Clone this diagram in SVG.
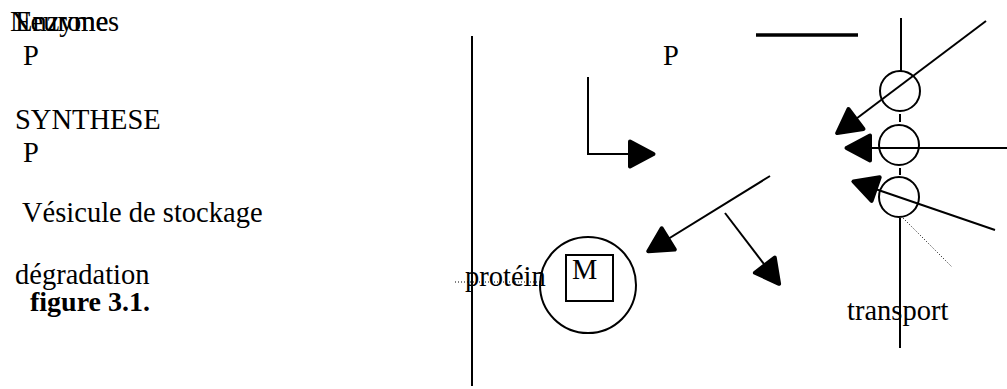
<svg xmlns="http://www.w3.org/2000/svg" width="1007" height="389" viewBox="0 0 1007 389">
<style>
text{font-family:"Liberation Serif","Times New Roman",serif;font-size:28.5px;fill:#000}
.b{font-weight:bold;font-size:28px}
.ln{stroke:#000;stroke-width:2;fill:none}
.thick{stroke:#000;stroke-width:3.5;fill:none}
.dot{stroke:#000;stroke-width:1;stroke-dasharray:1 2;fill:none}
.arr{marker-end:url(#ah)}
</style>
<defs>
<marker id="ah" markerUnits="userSpaceOnUse" viewBox="-30 -17 34 34" markerWidth="34" markerHeight="34" refX="0" refY="0" orient="auto" overflow="visible">
<path d="M-25,-12.5 L-1.5,0 L-25,12.5 Z" fill="#000" stroke="#000" stroke-width="4" stroke-linejoin="round"/>
</marker>
</defs>
<rect width="1007" height="389" fill="#fff"/>
<g id="labels-left">
<text x="10" y="31">Neurones</text>
<text x="15" y="31">Enzyme</text>
<text x="23" y="65">P</text>
<text x="15" y="129">SYNTHESE</text>
<text x="23" y="162">P</text>
<text x="22" y="222">Vésicule de stockage</text>
<text x="15" y="284">dégradation</text>
<text x="30" y="311" class="b">figure 3.1.</text>
</g>
<g id="membrane-left">
<line class="ln" x1="472" y1="36" x2="472" y2="386"/>
</g>
<g id="protein">
<line class="dot" x1="455" y1="282" x2="540" y2="282"/>
<text x="465" y="286">protéin</text>
</g>
<g id="vesicle">
<circle class="ln" cx="588" cy="285" r="48"/>
<rect class="ln" x="566" y="255" width="47" height="46"/>
<text x="572" y="279">M</text>
</g>
<g id="label-p-right">
<text x="663" y="65">P</text>
<line class="thick" x1="756" y1="35" x2="858" y2="35"/>
</g>
<g id="transporters">
<line class="ln" x1="901" y1="18" x2="901" y2="71"/>
<circle class="ln" cx="900" cy="91" r="20"/>
<line class="ln" x1="900" y1="114" x2="900" y2="122"/>
<circle class="ln" cx="899" cy="145" r="20"/>
<line class="ln" x1="900" y1="168" x2="900" y2="175"/>
<circle class="ln" cx="899" cy="197" r="20"/>
<line class="ln" x1="900" y1="218" x2="900" y2="348"/>
<line class="dot" x1="903" y1="218" x2="952" y2="267"/>
<text x="847" y="320">transport</text>
</g>
<g id="connectors">
<polyline class="ln arr" points="588,77 588,154 655,154"/>
<line class="ln arr" x1="986" y1="21" x2="836" y2="134"/>
<line class="ln arr" x1="1007" y1="148" x2="845" y2="148"/>
<line class="ln arr" x1="995" y1="230" x2="852" y2="181"/>
<line class="ln arr" x1="770" y1="176" x2="647" y2="252"/>
<line class="ln arr" x1="725" y1="213" x2="780" y2="285"/>
</g>
</svg>
